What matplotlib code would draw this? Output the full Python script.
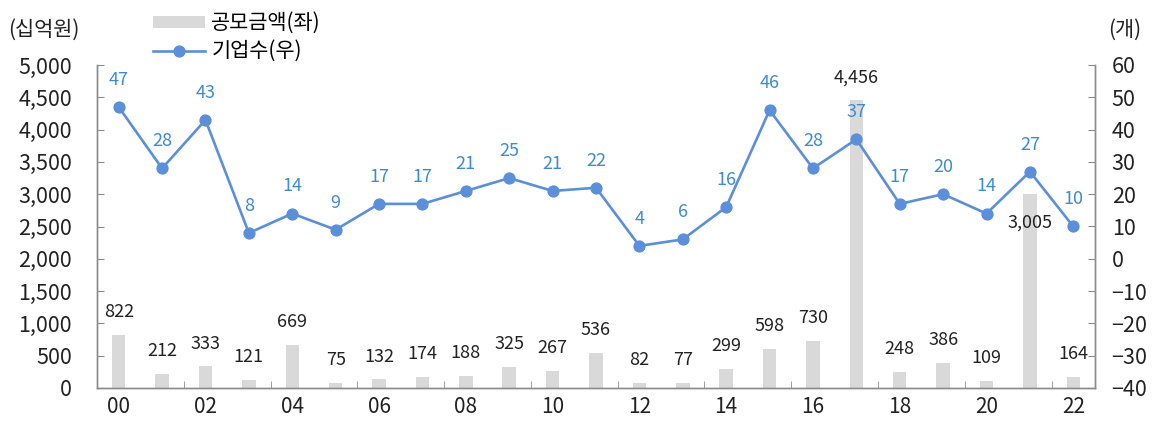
import matplotlib
matplotlib.use("Agg")
import matplotlib.pyplot as plt
import numpy as np

plt.rcParams['font.family'] = ['Noto Sans CJK KR', 'DejaVu Sans']

years = ['00', '01', '02', '03', '04', '05', '06', '07', '08', '09', '10', '11',
         '12', '13', '14', '15', '16', '17', '18', '19', '20', '21', '22']
amount = [822, 212, 333, 121, 669, 75, 132, 174, 188, 325, 267, 536,
          82, 77, 299, 598, 730, 4456, 248, 386, 109, 3005, 164]
firms = [47, 28, 43, 8, 14, 9, 17, 17, 21, 25, 21, 22,
         4, 6, 16, 46, 28, 37, 17, 20, 14, 27, 10]

bar_color = '#d9d9d9'
line_color = '#5b8fd9'
label_blue = '#3d8bd1'
text_color = '#222222'
spine_color = '#8c8c8c'

fig = plt.figure(figsize=(11.62, 4.21), dpi=100)
ax = fig.add_axes([97 / 1162, 1 - 388 / 421, (1095 - 97) / 1162, (388 - 65) / 421])
ax2 = ax.twinx()

x = np.arange(len(years))
ax.bar(x, amount, width=0.31, color=bar_color, zorder=1, label='공모금액(좌)')
ax2.plot(x, firms, color=line_color, lw=1.9, marker='o', ms=7.8, zorder=3, label='기업수(우)')

# bar labels (2021 label sits inside the bar, below the line)
for i, v in enumerate(amount):
    dy = -21 if years[i] == '21' else 16.5
    ax.annotate(f'{v:,}', (i, v), xytext=(0, dy), textcoords='offset points',
                ha='center', va='center', fontsize=13, color=text_color)

# line labels
for i, v in enumerate(firms):
    ax2.annotate(str(v), (i, v), xytext=(0, 19.5), textcoords='offset points',
                 ha='center', va='center', fontsize=13, color=label_blue)

ax.set_xlim(-0.5, len(years) - 0.5)
ax.set_ylim(0, 5000)
ax2.set_ylim(-40, 60)
ax.set_yticks(np.arange(0, 5001, 500))
ax.set_yticklabels([f'{t:,}' for t in range(0, 5001, 500)])
ax2.set_yticks(np.arange(-40, 61, 10))
ax2.set_yticklabels([str(t).replace('-', '−') for t in range(-40, 61, 10)])

ax.set_xticks(x[::2])
ax.set_xticklabels(years[::2])
ax.set_xticks(np.arange(1.5, len(years) - 1, 2), minor=True)

for a in (ax, ax2):
    a.spines['top'].set_visible(False)
    for s in ('left', 'right', 'bottom'):
        a.spines[s].set_color(spine_color)
        a.spines[s].set_linewidth(1.0)
    a.tick_params(axis='y', direction='in', length=5, color=spine_color,
                  labelsize=15.5, labelcolor=text_color)
ax.tick_params(axis='y', pad=18)
ax2.tick_params(axis='y', pad=12)

ax.tick_params(axis='x', which='major', length=0, labelsize=15, labelcolor=text_color, pad=6)
ax.tick_params(axis='x', which='minor', direction='in', length=5, color=spine_color)

fig.text(8 / 1162, 1 - 30 / 421, '(십억원)', fontsize=15, color=text_color, va='center')
fig.text(1108 / 1162, 1 - 30 / 421, '(개)', fontsize=15, color=text_color, va='center')

h1, l1 = ax.get_legend_handles_labels()
h2, l2 = ax2.get_legend_handles_labels()
fig.legend(h1 + h2, l1 + l2, loc='upper left', bbox_to_anchor=(153 / 1162, 1 - 12 / 421),
           frameon=False, fontsize=15, handlelength=2.5, handleheight=0.5,
           labelspacing=0.3, handletextpad=0.3, borderaxespad=0, borderpad=0)

fig.savefig('out.png', dpi=100)
